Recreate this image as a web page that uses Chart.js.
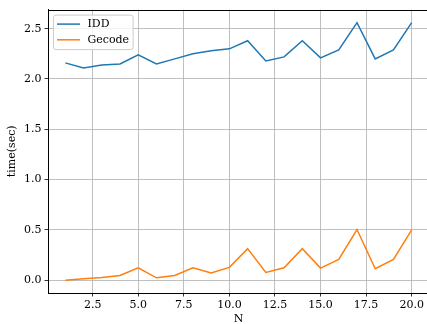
<!DOCTYPE html>
<html>
<head>
<meta charset="utf-8">
<script src="https://cdn.jsdelivr.net/npm/chart.js@4/dist/chart.umd.min.js"></script>
<style>
  html, body { margin: 0; padding: 0; background: #fff; overflow: hidden; }
  #wrap { width: 431px; height: 324px; position: relative; }
</style>
</head>
<body>
<div id="wrap"><canvas id="timing-chart"></canvas></div>
<script>
const nValues = [1, 2, 3, 4, 5, 6, 7, 8, 9, 10, 11, 12, 13, 14, 15, 16, 17, 18, 19, 20];
const iddTimes = [2.16, 2.11, 2.14, 2.15, 2.24, 2.15, 2.20, 2.25, 2.28, 2.30,
                  2.38, 2.18, 2.22, 2.38, 2.21, 2.29, 2.56, 2.20, 2.29, 2.56];
const gecodeTimes = [0.00, 0.013, 0.027, 0.047, 0.123, 0.023, 0.047, 0.123, 0.07, 0.127,
                     0.313, 0.077, 0.123, 0.313, 0.12, 0.207, 0.503, 0.113, 0.207, 0.50];
const xTicks = [2.5, 5.0, 7.5, 10.0, 12.5, 15.0, 17.5, 20.0];
const yTicks = [0.0, 0.5, 1.0, 1.5, 2.0, 2.5];

const FONT = { family: "'DejaVu Serif', serif", size: 11 };

const toPoints = ys => ys.map((y, i) => ({ x: nValues[i], y }));

// axes frame on all four sides
const framePlugin = {
  id: 'frame',
  afterDatasetsDraw(chart) {
    const { ctx, chartArea: a } = chart;
    ctx.save();
    ctx.strokeStyle = '#000';
    ctx.lineWidth = 1;
    ctx.strokeRect(Math.round(a.left) + 0.5, Math.round(a.top) + 0.5,
                   Math.round(a.right - a.left), Math.round(a.bottom - a.top));
    ctx.restore();
  }
};

// boxed legend in the upper left corner of the plot area
const boxLegend = {
  id: 'boxLegend',
  afterDraw(chart) {
    const { ctx, chartArea: a } = chart;
    const sets = chart.data.datasets;
    ctx.save();
    ctx.font = `${FONT.size}px ${FONT.family}`;
    const textW = Math.max(...sets.map(d => ctx.measureText(d.label).width));
    const x = a.left + 5.5, y = a.top + 5.5;
    const w = 3.5 + 23 + 7.5 + textW + 4, h = 34.5;
    ctx.beginPath();
    ctx.roundRect(x, y, w, h, 2.5);
    ctx.fillStyle = 'rgba(255,255,255,0.8)';
    ctx.fill();
    ctx.strokeStyle = '#cccccc';
    ctx.lineWidth = 1;
    ctx.stroke();
    sets.forEach((d, i) => {
      const ly = y + 9 + i * 15.7;
      ctx.beginPath();
      ctx.moveTo(x + 3.5, ly);
      ctx.lineTo(x + 26.5, ly);
      ctx.strokeStyle = d.borderColor;
      ctx.lineWidth = 1.5;
      ctx.stroke();
      ctx.fillStyle = '#000';
      ctx.textBaseline = 'middle';
      ctx.fillText(d.label, x + 34, ly + 0.5);
    });
    ctx.restore();
  }
};

new Chart(document.getElementById('timing-chart'), {
  type: 'line',
  data: {
    datasets: [
      { label: 'IDD', data: toPoints(iddTimes), borderColor: '#1f77b4', borderWidth: 1.5 },
      { label: 'Gecode', data: toPoints(gecodeTimes), borderColor: '#ff7f0e', borderWidth: 1.5 }
    ]
  },
  options: {
    responsive: true,
    maintainAspectRatio: false,
    animation: false,
    events: [],
    layout: { padding: { top: 9, right: 2, left: 0, bottom: 0 } },
    elements: { point: { radius: 0 }, line: { tension: 0 } },
    plugins: { legend: { display: false }, tooltip: { enabled: false } },
    scales: {
      x: {
        type: 'linear',
        min: 0.05,
        max: 20.95,
        afterBuildTicks: s => { s.ticks = xTicks.map(v => ({ value: v })); },
        afterFit: s => { s.height = 31; },
        ticks: { font: FONT, color: '#000', padding: 2, maxRotation: 0,
                 callback: v => v.toFixed(1) },
        grid: { color: '#b0b0b0', lineWidth: 0.8, tickLength: 3.5, tickColor: '#000', tickWidth: 0.8 },
        border: { color: '#000', width: 1 },
        title: { display: true, text: 'N', font: FONT, color: '#000', padding: { top: 0, bottom: -1.5 } }
      },
      y: {
        min: -0.128,
        max: 2.69,
        afterBuildTicks: s => { s.ticks = yTicks.map(v => ({ value: v })); },
        afterFit: s => { s.width = 48; },
        ticks: { font: FONT, color: '#000', padding: 3, callback: v => v.toFixed(1) },
        grid: { color: '#b0b0b0', lineWidth: 0.8, tickLength: 3.5, tickColor: '#000', tickWidth: 0.8 },
        border: { color: '#000', width: 1 },
        title: { display: true, text: 'time(sec)', font: FONT, color: '#000', padding: { top: 6, bottom: 0 } }
      }
    }
  },
  plugins: [framePlugin, boxLegend]
});
</script>
</body>
</html>
